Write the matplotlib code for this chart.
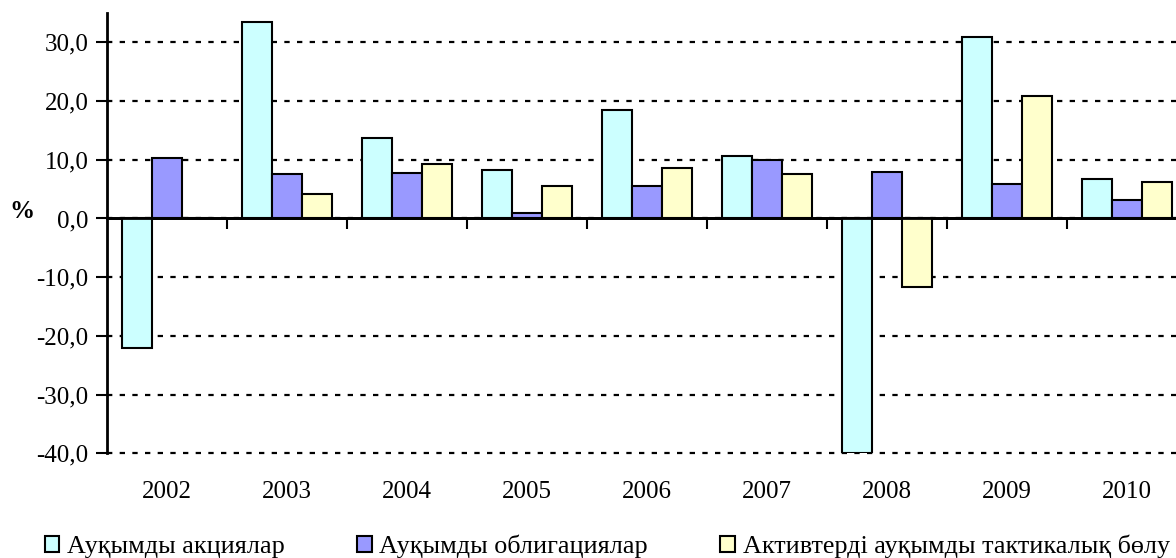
import numpy as np
import matplotlib.pyplot as plt
from matplotlib.patches import Patch

plt.rcParams['font.family'] = ['Liberation Serif', 'DejaVu Serif']

years = ['2002', '2003', '2004', '2005', '2006', '2007', '2008', '2009', '2010']
equities = [-22.0, 33.5, 13.7, 8.2, 18.5, 10.7, -40.0, 30.9, 6.8]
bonds = [10.3, 7.5, 7.8, 1.0, 5.5, 9.9, 7.9, 5.8, 3.1]
tactical = [0.0, 4.2, 9.2, 5.5, 8.6, 7.5, -11.6, 20.9, 6.2]
series_names = ['Ауқымды акциялар', 'Ауқымды облигациялар',
                'Активтерді ауқымды тактикалық бөлу']
colors = ['#CCFFFF', '#9999FF', '#FFFFCC']
FS = 18

fig = plt.figure(figsize=(11.76, 5.58), dpi=100)
ax = fig.add_axes([107 / 1176, 1 - 453.3 / 558, 1080 / 1176, 440.3 / 558])

x = np.arange(len(years))
w = 0.25
for i, (vals, c) in enumerate(zip([equities, bonds, tactical], colors)):
    ax.bar(x + (i - 1) * w, vals, w, color=c, edgecolor='black', linewidth=1.5, zorder=3)

ax.set_xlim(-0.5, len(years) - 0.5)
ax.set_ylim(-40, 35)
ax.set_yticks(np.arange(-40, 31, 10))
ax.set_yticklabels([f'{v:.1f}'.replace('.', ',') for v in np.arange(-40, 31, 10)])
ax.yaxis.grid(True, color='black', linestyle=(0, (2.4, 3.3)), linewidth=1.6)
for gl in ax.get_ygridlines():
    gl.set_clip_on(False)
ax.tick_params(axis='y', length=8, width=1.5, labelsize=FS, pad=5.5)

# year labels sit at the bottom, tick marks on the zero line
ax.set_xticks(x)
ax.set_xticklabels(years)
ax.tick_params(axis='x', length=0, labelsize=FS, pad=20)
for s in ['top', 'right', 'bottom']:
    ax.spines[s].set_visible(False)
ax.spines['left'].set_linewidth(2)

zero_axis = ax.secondary_xaxis(40 / 75)
zero_axis.set_alignment('bottom')
zero_axis.set_xticks(np.arange(0.5, len(years) - 0.5, 1))
zero_axis.set_xticklabels([])
zero_axis.spines['bottom'].set_linewidth(2)
zero_axis.tick_params(direction='out', length=8, width=1.5)
ax.axhline(0, color='black', linewidth=2, zorder=4)

fig.text(22 / 1176, 1 - 211 / 558, '%', fontsize=FS, fontweight='bold', ha='center', va='center')

handles = [Patch(facecolor=c, edgecolor='black', linewidth=1.5) for c in colors]
fig.legend(handles, series_names, loc='lower left', bbox_to_anchor=(21 / 1176, -0.043),
           ncol=3, frameon=False, fontsize=18.8, handlelength=0.57, handleheight=0.57,
           handletextpad=0.3, columnspacing=2.75)

fig.savefig('out.png', dpi=100)
